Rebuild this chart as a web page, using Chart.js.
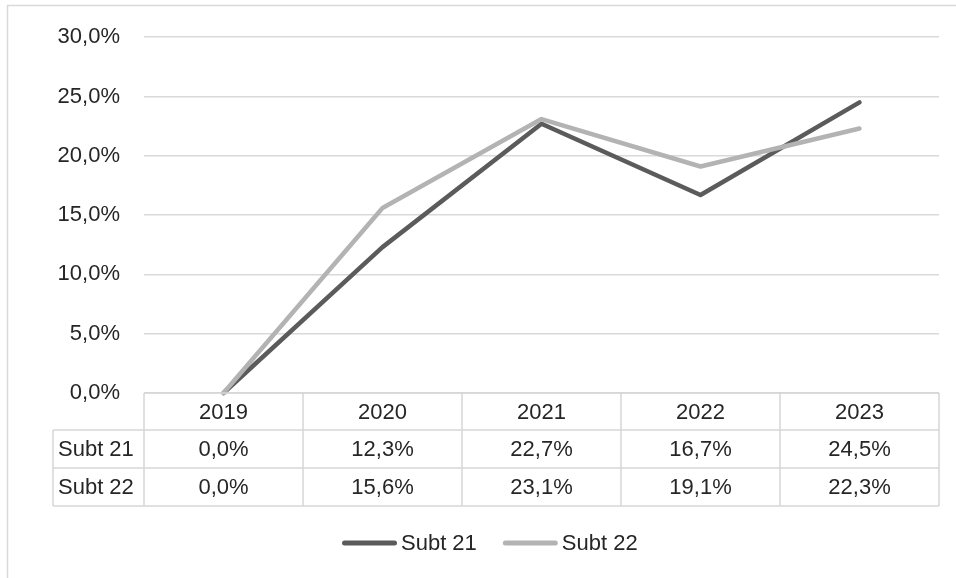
<!DOCTYPE html>
<html>
<head>
<meta charset="utf-8">
<script src="https://cdn.jsdelivr.net/npm/chart.js@4/dist/chart.umd.min.js"></script>
<style>
  html, body { margin: 0; padding: 0; background: #ffffff; }
  canvas { display: block; }
</style>
</head>
<body>
<canvas id="c" width="956" height="578"></canvas>
<script>
const categories = ['2019', '2020', '2021', '2022', '2023'];
const seriesNames = ['Subt 21', 'Subt 22'];
const subt21 = [0.0, 12.3, 22.7, 16.7, 24.5];
const subt22 = [0.0, 15.6, 23.1, 19.1, 22.3];
const seriesColors = ['#5b5b5b', '#b3b3b3'];
const yMin = 0, yMax = 30, yStep = 5;

const FONT = '"Liberation Sans", Arial, sans-serif';
const FSIZE = 22;
const TEXT = '#262626';
const GRID = '#d9d9d9';

function fmt(v) { return v.toFixed(1).replace('.', ',') + '%'; }

const tablePlugin = {
  id: 'tableAndLegend',
  afterDraw(chart) {
    const ctx = chart.ctx;
    const area = chart.chartArea;
    const xs = chart.scales.x;
    const series = [subt21, subt22];
    ctx.save();

    // outer frame (cropped)
    ctx.strokeStyle = GRID;
    ctx.lineWidth = 1.5;
    ctx.strokeRect(7.5, 5.5, 3000, 3000);

    // table geometry
    const top = area.bottom;
    const rows = [top, top + 37, top + 75, top + 113];
    const labelLeft = 53;
    const bounds = [area.left];
    for (let i = 0; i < categories.length - 1; i++) {
      bounds.push((xs.getPixelForValue(i) + xs.getPixelForValue(i + 1)) / 2);
    }
    bounds.push(area.right);

    ctx.strokeStyle = '#d6d6d6';
    ctx.lineWidth = 1.5;
    ctx.beginPath();
    // horizontal lines
    ctx.moveTo(area.left, rows[0]); ctx.lineTo(area.right, rows[0]);
    for (let r = 1; r < rows.length; r++) {
      ctx.moveTo(labelLeft, rows[r]); ctx.lineTo(area.right, rows[r]);
    }
    // vertical lines
    ctx.moveTo(labelLeft, rows[1]); ctx.lineTo(labelLeft, rows[3]);
    for (let i = 0; i < bounds.length; i++) {
      ctx.moveTo(bounds[i], rows[0]); ctx.lineTo(bounds[i], rows[3]);
    }
    ctx.stroke();

    // texts
    ctx.fillStyle = TEXT;
    ctx.font = FSIZE + 'px ' + FONT;
    ctx.textBaseline = 'middle';
    ctx.textAlign = 'center';
    categories.forEach((c, i) => {
      ctx.fillText(c, xs.getPixelForValue(i), (rows[0] + rows[1]) / 2 + 1);
    });
    series.forEach((s, r) => {
      const yc = (rows[r + 1] + rows[r + 2]) / 2 + 1;
      ctx.textAlign = 'left';
      ctx.fillText(seriesNames[r], labelLeft + 5, yc);
      ctx.textAlign = 'center';
      s.forEach((v, i) => ctx.fillText(fmt(v), xs.getPixelForValue(i), yc));
    });

    // legend
    const ly = 543;
    let lx = 342;
    const lineLen = 55;
    ctx.lineCap = 'round';
    ctx.lineWidth = 5;
    seriesNames.forEach((n, i) => {
      ctx.strokeStyle = seriesColors[i];
      ctx.beginPath();
      ctx.moveTo(lx + 2.5, ly); ctx.lineTo(lx + lineLen - 2.5, ly);
      ctx.stroke();
      ctx.fillStyle = TEXT;
      ctx.textAlign = 'left';
      ctx.fillText(n, lx + lineLen + 4, ly + 1);
      lx += lineLen + 4 + ctx.measureText(n).width + 26;
    });
    ctx.restore();
  }
};

new Chart(document.getElementById('c'), {
  type: 'line',
  data: {
    labels: categories,
    datasets: [
      { label: seriesNames[0], data: subt21, borderColor: seriesColors[0], backgroundColor: seriesColors[0],
        borderWidth: 4.5, pointRadius: 0, tension: 0, clip: false, order: 2,
        borderJoinStyle: 'round', borderCapStyle: 'round' },
      { label: seriesNames[1], data: subt22, borderColor: seriesColors[1], backgroundColor: seriesColors[1],
        borderWidth: 4.5, pointRadius: 0, tension: 0, clip: false, order: 1,
        borderJoinStyle: 'round', borderCapStyle: 'round' }
    ]
  },
  options: {
    responsive: false,
    animation: false,
    events: [],
    layout: { padding: { left: 0, top: 34, right: 17, bottom: 185 } },
    plugins: { legend: { display: false }, tooltip: { enabled: false } },
    scales: {
      x: { type: 'category', offset: true, display: false },
      y: {
        min: yMin, max: yMax,
        border: { display: false },
        grid: { color: GRID, lineWidth: 1.5, drawTicks: false },
        ticks: {
          stepSize: yStep, padding: 24, color: TEXT,
          font: { family: FONT, size: FSIZE },
          callback: (v) => fmt(v)
        },
        afterFit(scale) { scale.width = 144; }
      }
    }
  },
  plugins: [tablePlugin]
});
</script>
</body>
</html>
